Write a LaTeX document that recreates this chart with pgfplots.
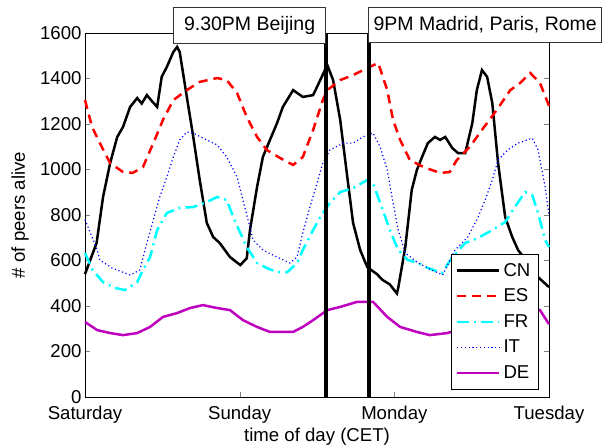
\documentclass[border=0pt]{standalone}
\usepackage{fontspec}
\setmainfont{Liberation Sans}
\usepackage{pgfplots}
\pgfplotsset{compat=1.18}
\definecolor{mag}{rgb}{0.75,0,0.75}
\definecolor{cyn}{rgb}{0,1,1}
\definecolor{blu}{rgb}{0,0,1}
\definecolor{rd}{rgb}{1,0,0}
\begin{document}
\begin{tikzpicture}[font=\fontsize{18.6pt}{22pt}\selectfont]
\path[use as bounding box] (-85pt,-50pt) rectangle (527pt,397pt);
\begin{axis}[
 at={(0pt,0pt)}, anchor=south west,
 width=464pt, height=364pt, scale only axis,
 xmin=0, xmax=72, ymin=0, ymax=1600,
 xtick={0,24,48,72}, xticklabels={Saturday,Sunday,Monday,Tuesday},
 ytick={0,200,...,1600},
 tick align=inside, major tick length=5pt,
 /pgf/number format/assume math mode=true,
 /pgf/number format/1000 sep={},
 xticklabel style={yshift=-5.5pt},
 xlabel={time of day (CET)}, ylabel={\# of peers alive},
 xlabel style={at={(axis description cs:0.5,-0.11)}, anchor=center},
 ylabel style={at={(axis description cs:-0.14,0.5)}, anchor=center},
 clip=false,
 axis line style={line width=0.8pt},
 legend style={at={(0.978,0.021)}, anchor=south east, draw=black, line width=0.8pt,
   inner xsep=5pt, inner ysep=6pt, row sep=5.2pt, column sep=0pt,
   nodes={inner sep=3pt}},
 legend cell align=left,
 legend image code/.code={\draw[#1] (0pt,0pt) -- (42pt,0pt);},
]
\addplot[black, line width=2.5pt] coordinates {(0,540) (1.8,677) (2.8,879) (3.9,1028) (5.0,1143) (5.9,1187) (7.0,1275) (8.1,1314) (8.8,1290) (9.6,1327) (10.4,1300) (11.2,1275) (11.9,1407) (12.7,1451) (13.7,1516) (14.3,1539) (14.7,1516) (15.8,1319) (16.8,1143) (17.8,954) (18.9,765) (19.9,703) (20.9,677) (22.5,615) (24.1,580) (25.1,610) (25.6,734) (26.7,923) (27.6,1055) (28.7,1130) (29.8,1204) (30.7,1275) (32.3,1349) (33.8,1319) (35.4,1327) (36.5,1393) (37.6,1459) (38.5,1393) (39.6,1218) (40.7,967) (41.6,765) (42.7,646) (43.8,571) (45.3,540) (46.2,514) (47.3,495) (48.4,455) (48.6,479) (49.7,659) (50.7,910) (51.5,998) (52.3,1055) (53.2,1116) (54.3,1143) (55.1,1130) (55.9,1143) (57.0,1094) (57.9,1072) (59.0,1072) (60.1,1204) (60.8,1349) (61.6,1437) (62.4,1407) (63.2,1292) (64.1,1028) (65.2,791) (66.3,703) (67.2,646) (68.7,590) (70.3,527) (72,483)};
\addplot[rd, line width=2.5pt, dash pattern=on 9pt off 6pt] coordinates {(0,1305) (1.1,1187) (2.3,1116) (3.9,1028) (5.9,989) (7.4,985) (9.0,1011) (10.6,1116) (12.1,1218) (13.7,1305) (15.8,1349) (17.8,1385) (20.5,1402) (22.0,1393) (23.6,1336) (25.1,1231) (26.7,1143) (28.2,1086) (30.3,1050) (32.3,1020) (33.8,1055) (35.4,1174) (36.9,1305) (37.6,1349) (39.6,1393) (41.6,1415) (43.8,1446) (45.5,1468) (46.9,1349) (47.8,1218) (48.9,1130) (50.4,1042) (52.5,1011) (55.1,985) (56.6,989) (57.7,1042) (59.7,1099) (61.8,1182) (63.9,1262) (66.0,1349) (67.5,1380) (69.1,1424) (70.6,1380) (72,1280)};
\addplot[cyn, line width=2.5pt, dash pattern=on 12pt off 5pt on 2pt off 5pt] coordinates {(0,633) (1.2,558) (2.8,505) (4.7,479) (6.2,470) (8.1,505) (9.0,558) (10.1,615) (11.2,734) (12.7,809) (14.7,831) (16.8,835) (18.9,857) (20.5,879) (22.0,866) (23.0,791) (24.1,721) (25.1,659) (26.7,589) (28.2,567) (29.8,549) (31.4,549) (32.9,589) (33.8,646) (35.4,734) (36.5,791) (38.0,853) (39.6,901) (41.6,918) (43.8,954) (44.7,940) (46.2,822) (47.3,734) (48.6,646) (50.1,602) (51.7,589) (53.2,567) (55.4,545) (57.0,615) (59.0,677) (61.0,699) (63.2,734) (65.2,769) (66.7,835) (68.3,901) (69.4,888) (70.3,809) (71.4,690) (72,659)};
\addplot[blu, line width=1.2pt, dash pattern=on 1.2pt off 2.6pt] coordinates {(0,780) (1.9,646) (2.3,602) (4.2,567) (6.2,545) (7.0,536) (8.5,558) (9.6,677) (10.6,778) (11.6,879) (12.7,967) (13.7,1055) (14.7,1130) (15.8,1165) (16.8,1160) (18.3,1138) (20.5,1108) (22.0,1055) (23.6,967) (24.5,866) (25.3,778) (26.1,690) (27.6,646) (29.8,615) (31.8,589) (32.9,615) (33.8,721) (34.9,835) (36.0,940) (36.9,1028) (38.0,1086) (40.1,1116) (41.6,1116) (43.1,1143) (44.7,1160) (45.8,1099) (46.9,998) (47.8,853) (48.6,734) (49.7,633) (51.7,589) (53.8,558) (55.5,536) (57.4,646) (59.4,703) (61.0,791) (62.1,866) (63.2,954) (64.1,1042) (65.6,1086) (67.2,1116) (69.4,1138) (70.3,1086) (71.4,923) (72,800)};
\addplot[mag, line width=2.5pt] coordinates {(0,330) (1.9,294) (3.9,281) (5.9,272) (8.1,281) (10.1,308) (12.1,352) (14.3,369) (16.3,391) (18.3,404) (20.5,391) (22.5,382) (24.5,338) (26.7,308) (28.7,286) (30.7,286) (32.3,286) (33.8,308) (35.4,338) (37.6,382) (39.6,396) (42.2,418) (44.7,418) (46.9,352) (48.9,308) (51.5,286) (53.5,272) (56.2,281) (58.5,300) (61,330) (63.5,360) (66,385) (68.5,400) (70.6,382) (72,320)};
\addplot[black, line width=3.3pt, forget plot] coordinates {(37.4,0) (37.4,1600)};
\addplot[black, line width=3.3pt, forget plot] coordinates {(44.07,0) (44.07,1600)};
\legend{CN,ES,FR,IT,DE}
\node[draw=black!80, line width=0.8pt, fill=white, minimum width=152pt, minimum height=36pt, inner sep=0pt, anchor=north east, font=\fontsize{19.5pt}{22pt}\selectfont] at (rel axis cs:0.5194,1.0723) {9.30PM Beijing};
\node[draw=black!80, line width=0.8pt, fill=white, minimum width=233pt, minimum height=34.4pt, inner sep=0pt, anchor=north west, font=\fontsize{19.5pt}{22pt}\selectfont] at (rel axis cs:0.6106,1.0706) {9PM Madrid, Paris, Rome};
\end{axis}
\end{tikzpicture}
\end{document}
